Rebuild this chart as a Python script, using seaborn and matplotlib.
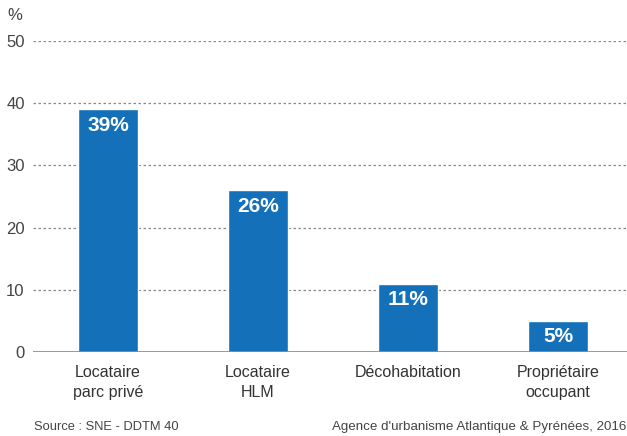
import matplotlib
matplotlib.use('Agg')
import matplotlib.pyplot as plt
import seaborn as sns
import pandas as pd

categories = ["Locataire\nparc privé", "Locataire\nHLM", "Décohabitation", "Propriétaire\noccupant"]
values = [39, 26, 11, 5]
bar_labels = ["39%", "26%", "11%", "5%"]
yticks = [0, 10, 20, 30, 40, 50]

sns.set_style("white")
plt.rcParams['font.family'] = ['Liberation Sans', 'DejaVu Sans']

df = pd.DataFrame({"cat": categories, "val": values})

fig = plt.figure(figsize=(6.27, 4.36), dpi=100)
ax = fig.add_axes([33 / 627, 84 / 436, 594 / 627, 311 / 436])

sns.barplot(data=df, x="cat", y="val", color="#1470b8", width=0.4,
            saturation=1, ax=ax, zorder=3)

# dotted gridlines
for t in yticks[1:]:
    ax.axhline(t, color="#888888", linestyle=(0, (2, 2)), linewidth=0.9, zorder=1)
ax.axhline(0, color="#888888", linewidth=1.2, zorder=4)

for i, (v, lab) in enumerate(zip(values, bar_labels)):
    ax.text(i, v - 1.0, lab, ha="center", va="top", color="white",
            fontsize=15, fontweight="bold", zorder=5)

ax.set_xlim(-0.5, 3.46)
ax.set_ylim(0, 50)
ax.set_yticks(yticks)
ax.set_yticklabels([str(t) for t in yticks], fontsize=12, color="#444444")
ax.tick_params(axis="x", labelsize=11.5, colors="#333333", length=0, pad=9)
ax.tick_params(axis="y", length=0, pad=6)
for lab in ax.get_xticklabels():
    lab.set_color("#333333")
    lab.set_linespacing(1.45)
ax.set_xlabel("")
ax.set_ylabel("")
sns.despine(ax=ax, left=True, bottom=True, top=True, right=True)

fig.text(15 / 627, 1 - 16 / 436, "%", fontsize=12, color="#444444", va="center", ha="center")
fig.text(34 / 627, 1 - 427 / 436, "Source : SNE - DDTM 40", fontsize=9.3, color="#444444", va="center")
fig.text(626 / 627, 1 - 427 / 436, "Agence d'urbanisme Atlantique & Pyrénées, 2016",
         fontsize=9.6, color="#444444", va="center", ha="right")

fig.savefig("out.png", dpi=100)
